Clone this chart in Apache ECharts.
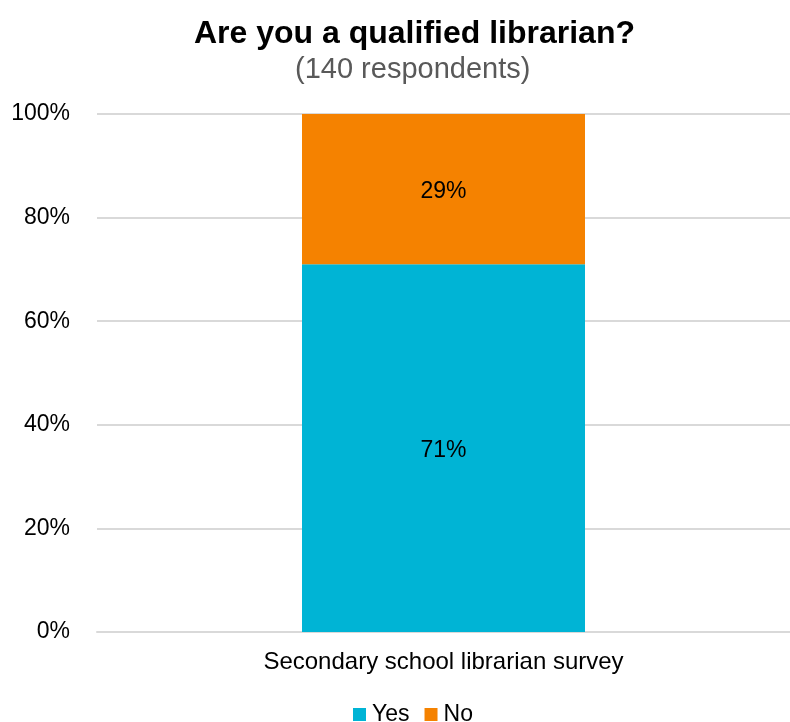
<!DOCTYPE html>
<html><head><meta charset="utf-8">
<script src="https://cdn.jsdelivr.net/npm/echarts@6/dist/echarts.min.js"></script>
<style>html,body{margin:0;padding:0;background:#fff;overflow:hidden}#c{width:790px;height:722px}</style>
</head><body><div id="c"></div>
<script>
var categories = ["Secondary school librarian survey"];
var yesValues = [71];
var noValues = [29];
var yTicks = [0, 20, 40, 60, 80, 100];
var F = "'Liberation Sans', Arial, sans-serif";
var chart = echarts.init(document.getElementById('c'));
chart.setOption({
  animation: false,
  title: [
    {text: "Are you a qualified librarian?", left: 189, top: 13, textStyle: {fontFamily: F, fontSize: 32, fontWeight: 'bold', color: '#000'}},
    {text: "(140 respondents)", left: 290, top: 50, textStyle: {fontFamily: F, fontSize: 29, fontWeight: 'normal', color: '#595959'}}
  ],
  legend: {
    bottom: -9, left: 348, itemWidth: 13, itemHeight: 13, itemGap: 15,
    icon: 'rect',
    textStyle: {fontFamily: F, fontSize: 23, color: '#000', padding: [0,0,0,1]},
    data: ['Yes', 'No']
  },
  grid: {left: 97, right: 0, top: 114, bottom: 90},
  xAxis: {
    type: 'category', data: categories,
    axisLine: {show: true, lineStyle: {color: '#d9d9d9', width: 2}},
    axisTick: {show: false},
    axisLabel: {fontFamily: F, fontSize: 24, color: '#000', margin: 18}
  },
  yAxis: {
    type: 'value', min: yTicks[0], max: yTicks[yTicks.length-1], interval: 20,
    axisLine: {show: false}, axisTick: {show: false},
    splitLine: {lineStyle: {color: '#d9d9d9', width: 2}},
    axisLabel: {fontFamily: F, fontSize: 23, color: '#000', margin: 27, formatter: function(v){return v + '%';}}
  },
  series: [
    {name: 'Yes', type: 'bar', stack: 't', data: yesValues, barWidth: 283, itemStyle: {color: '#00b4d5'},
     label: {show: true, position: 'inside', offset: [0, 3], fontFamily: F, fontSize: 23, color: '#000', formatter: '{c}%'}},
    {name: 'No', type: 'bar', stack: 't', data: noValues, itemStyle: {color: '#f58200'},
     label: {show: true, position: 'inside', offset: [0, 3], fontFamily: F, fontSize: 23, color: '#000', formatter: '{c}%'}}
  ]
});
</script></body></html>
